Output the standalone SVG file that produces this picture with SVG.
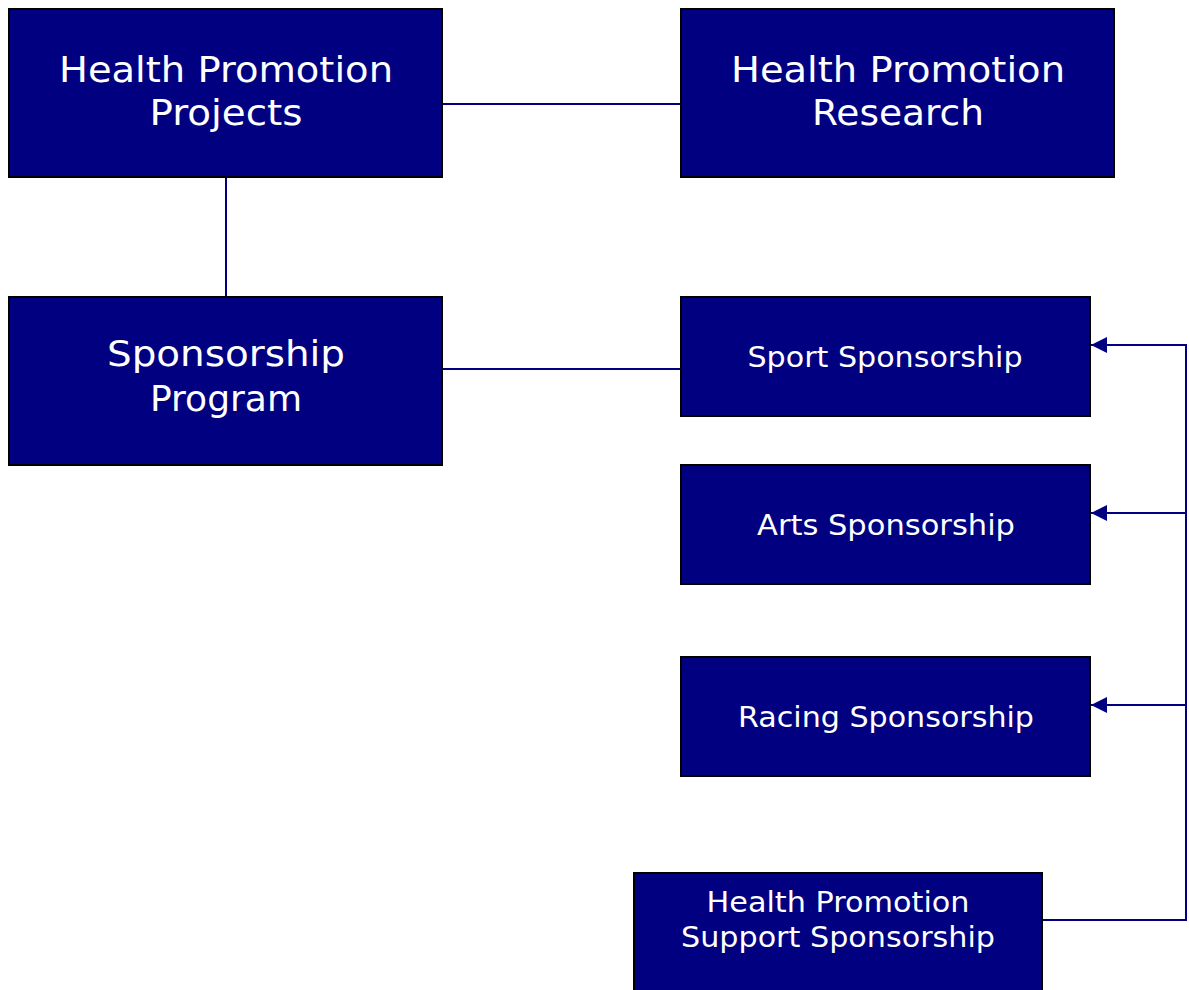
<svg xmlns="http://www.w3.org/2000/svg" width="1189" height="990" viewBox="0 0 1189 990">
<style>
.box{fill:#000080;stroke:#000;stroke-width:2}
.t{fill:#fff;font-family:"DejaVu Sans","Verdana",sans-serif;text-anchor:middle}
.big{font-size:36px}
.sm{font-size:28px}
.c{stroke:#000080;stroke-width:2;fill:none}
</style>
<defs>
<marker id="ah" viewBox="0 0 16 16" refX="16" refY="8" markerWidth="16" markerHeight="16" markerUnits="userSpaceOnUse" orient="auto">
<path d="M0,0 L16,8 L0,16 z" fill="#000080"/>
</marker>
</defs>
<rect width="1189" height="990" fill="#fff"/>
<g id="connectors">
<line class="c" x1="442" y1="104" x2="681" y2="104"/>
<line class="c" x1="226" y1="177" x2="226" y2="297"/>
<line class="c" x1="442" y1="369" x2="681" y2="369"/>
<polyline class="c" points="1042,920 1186,920 1186,345 1091,345" marker-end="url(#ah)"/>
<line class="c" x1="1186" y1="513" x2="1091" y2="513" marker-end="url(#ah)"/>
<line class="c" x1="1186" y1="705" x2="1091" y2="705" marker-end="url(#ah)"/>
</g>
<g id="hp-projects">
<rect class="box" x="9" y="9" width="433" height="168"/>
<text class="t big" x="226" y="82" textLength="334" lengthAdjust="spacingAndGlyphs">Health Promotion</text>
<text class="t big" x="226" y="125" textLength="153" lengthAdjust="spacingAndGlyphs">Projects</text>
</g>
<g id="hp-research">
<rect class="box" x="681" y="9" width="433" height="168"/>
<text class="t big" x="898" y="82" textLength="334" lengthAdjust="spacingAndGlyphs">Health Promotion</text>
<text class="t big" x="898" y="125" textLength="172" lengthAdjust="spacingAndGlyphs">Research</text>
</g>
<g id="sponsorship-program">
<rect class="box" x="9" y="297" width="433" height="168"/>
<text class="t big" x="226" y="366" textLength="238" lengthAdjust="spacingAndGlyphs">Sponsorship</text>
<text class="t big" x="226" y="411" textLength="152" lengthAdjust="spacingAndGlyphs">Program</text>
</g>
<g id="sport">
<rect class="box" x="681" y="297" width="409" height="119"/>
<text class="t sm" x="885" y="367" textLength="275" lengthAdjust="spacingAndGlyphs">Sport Sponsorship</text>
</g>
<g id="arts">
<rect class="box" x="681" y="465" width="409" height="119"/>
<text class="t sm" x="886" y="535" textLength="258" lengthAdjust="spacingAndGlyphs">Arts Sponsorship</text>
</g>
<g id="racing">
<rect class="box" x="681" y="657" width="409" height="119"/>
<text class="t sm" x="886" y="727" textLength="296" lengthAdjust="spacingAndGlyphs">Racing Sponsorship</text>
</g>
<g id="hp-support">
<rect class="box" x="634" y="873" width="408" height="130"/>
<text class="t sm" x="838" y="912" textLength="263" lengthAdjust="spacingAndGlyphs">Health Promotion</text>
<text class="t sm" x="838" y="947" textLength="314" lengthAdjust="spacingAndGlyphs">Support Sponsorship</text>
</g>
</svg>
